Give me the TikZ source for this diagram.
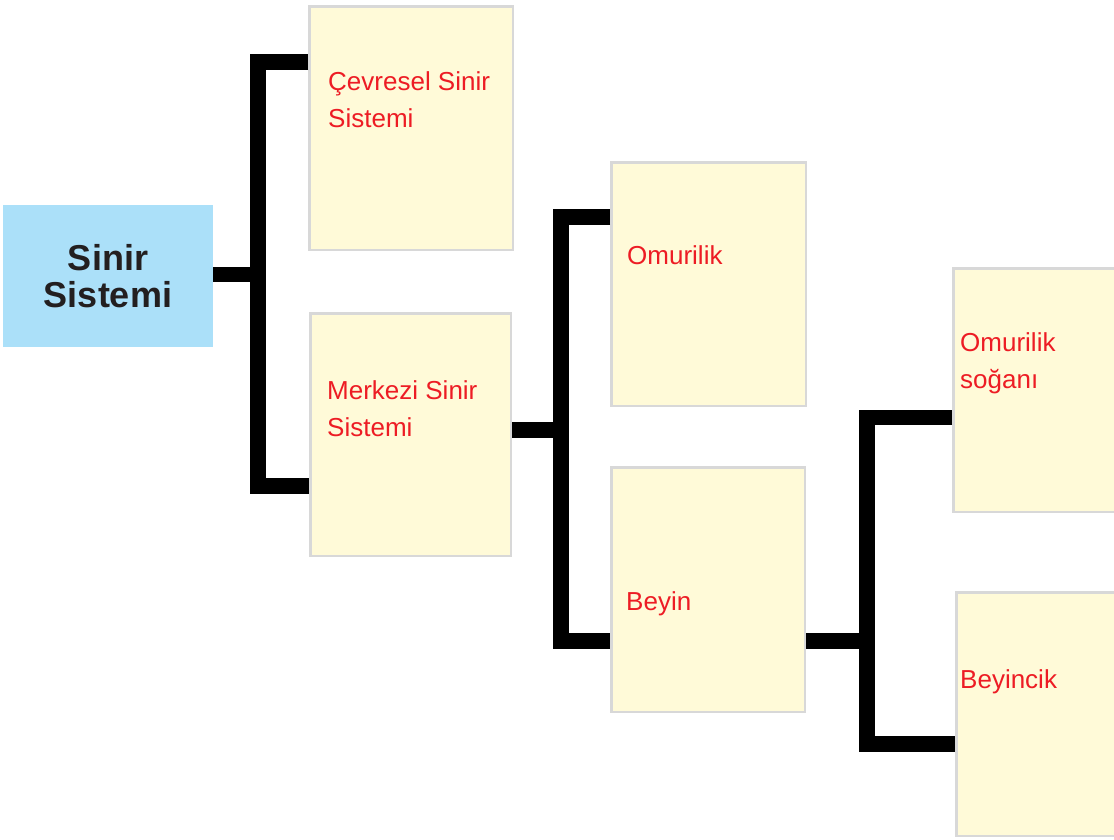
\documentclass[tikz,border=0pt]{standalone}
\usepackage{fontspec}
\setmainfont{Liberation Sans}
\definecolor{rootfill}{HTML}{ABE0F9}
\definecolor{roottext}{HTML}{231F20}
\definecolor{boxfill}{HTML}{FFFAD8}
\definecolor{boxline}{HTML}{D8D8D8}
\definecolor{lbl}{HTML}{ED1C24}
\begin{document}
\begin{tikzpicture}[x=1pt,y=-1pt,
  box/.style={draw=boxline, line width=2.5pt, fill=boxfill, inner sep=0pt},
  rootbox/.style={fill=rootfill, inner sep=0pt, minimum width=210pt, minimum height=142pt,
    text=roottext, font=\fontsize{36}{37}\selectfont\bfseries, align=center},
  lab/.style={text=lbl, font=\fontsize{26}{37}\selectfont, inner sep=0pt, anchor=base west},
  conn/.style={line width=15.5pt, line join=miter, line cap=butt, draw=black}]
\clip (0,0) rectangle (1114,839);
\fill[white] (0,0) rectangle (1114,839);
% boxes
\node[rootbox] (root) at (108,276) {Sinir\\Sistemi};
\node[box, minimum width=203.5pt, minimum height=243.5pt] (cev) at (411,128) {};
\node[box, minimum width=200.5pt, minimum height=242.5pt] (merk) at (410.5,434.5) {};
\node[box, minimum width=194.5pt, minimum height=243.5pt] (omu) at (708.5,284) {};
\node[box, minimum width=193.5pt, minimum height=244.5pt] (bey) at (708,589.5) {};
\node[box, minimum width=175.5pt, minimum height=243.5pt] (os) at (1041,390) {};
\node[box, minimum width=172.5pt, minimum height=243.5pt] (bc) at (1042.5,714) {};
% labels
\node[lab] (tcev1) at (328,90) {Çevresel Sinir};
\node[lab] (tcev2) at (328,127) {Sistemi};
\node[lab] (tmerk1) at (327,399) {Merkezi Sinir};
\node[lab] (tmerk2) at (327,436) {Sistemi};
\node[lab] (tomu) at (627,264) {Omurilik};
\node[lab] (tbey) at (626,610) {Beyin};
\node[lab] (tos1) at (960,351) {Omurilik};
\node[lab] (tos2) at (960,388) {soğanı};
\node[lab] (tbc) at (960,688) {Beyincik};
% connectors
\draw[conn] (root.east |- 0,274.5) -- (258,274.5);
\draw[conn] (cev.west |- 0,62) -- (258,62) -- (258,486) -- (merk.west |- 0,486);
\draw[conn] (merk.east |- 0,430) -- (561,430);
\draw[conn] (omu.west |- 0,217) -- (561,217) -- (561,641) -- (bey.west |- 0,641);
\draw[conn] (bey.east |- 0,641) -- (867,641);
\draw[conn] (os.west |- 0,417.5) -- (867,417.5) -- (867,744) -- (bc.west |- 0,744);
\end{tikzpicture}
\end{document}
